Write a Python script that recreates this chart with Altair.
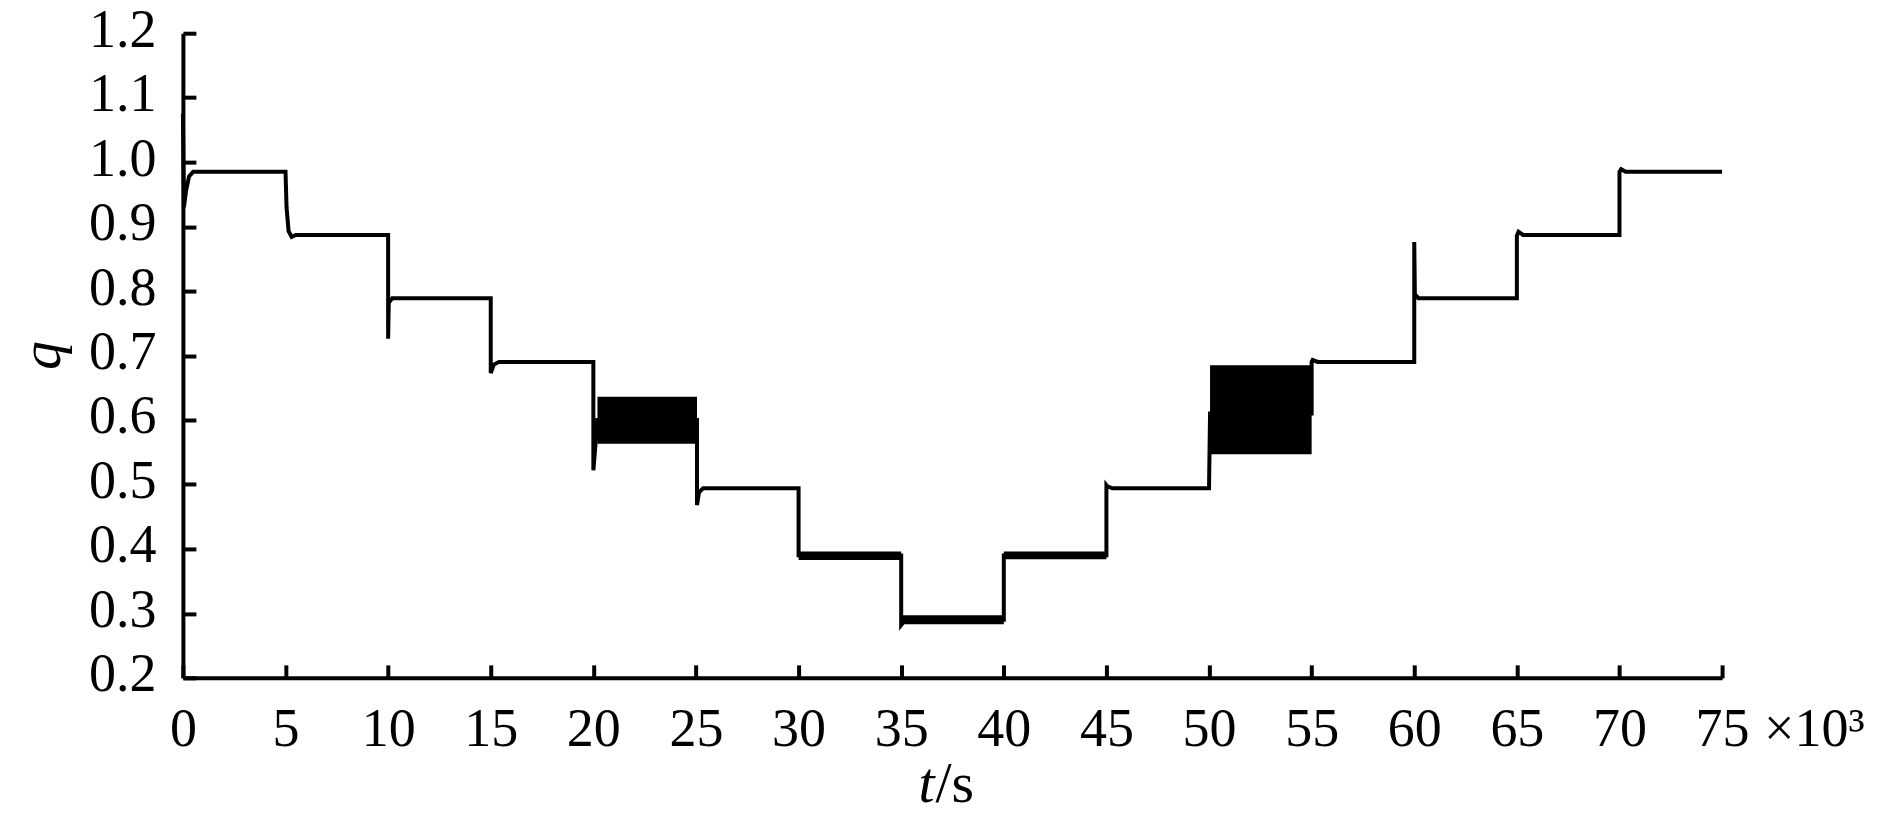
import altair as alt
import pandas as pd

# main trajectory (t in 10^3 s, q)
t_path = [0.0, 0.05, 0.15, 0.3, 0.5,
          5.0, 5.05, 5.15, 5.3, 5.5,
          10.0, 10.0, 10.03, 10.2,
          15.0, 15.0, 15.15, 15.4,
          20.0, 20.0, 20.2, 25.05, 25.05, 25.15, 25.35,
          30.0, 30.0, 35.0, 35.0, 35.2,
          40.0, 40.0, 45.0, 45.0, 45.05, 45.3,
          50.0, 50.05, 55.0, 55.0, 55.05, 55.3,
          60.0, 60.0, 60.03, 60.2,
          65.0, 65.0, 65.08, 65.3,
          70.0, 70.0, 70.08, 70.3, 75.0]
q_path = [1.075, 0.93, 0.955, 0.978, 0.985,
          0.985, 0.93, 0.893, 0.884, 0.887,
          0.887, 0.726, 0.782, 0.789,
          0.789, 0.673, 0.686, 0.690,
          0.690, 0.522, 0.60, 0.60, 0.468, 0.488, 0.494,
          0.494, 0.39, 0.39, 0.282, 0.29,
          0.29, 0.39, 0.39, 0.499, 0.497, 0.494,
          0.494, 0.61, 0.61, 0.690, 0.693, 0.690,
          0.690, 0.876, 0.795, 0.789,
          0.789, 0.886, 0.892, 0.887,
          0.887, 0.985, 0.989, 0.985, 0.985]

# oscillation / noise envelopes
band_t0 = [20.2, 30.0, 35.0, 40.0, 50.05]
band_t1 = [25.05, 35.0, 40.0, 45.0, 55.0]
band_lo = [0.563, 0.383, 0.283, 0.384, 0.547]
band_hi = [0.636, 0.396, 0.297, 0.396, 0.685]

y_ticks = [0.2, 0.3, 0.4, 0.5, 0.6, 0.7, 0.8, 0.9, 1.0, 1.1, 1.2]
x_ticks = [0, 5, 10, 15, 20, 25, 30, 35, 40, 45, 50, 55, 60, 65, 70, 75]

W, H = 1540, 645
X0, X1 = 0, 75
Y0, Y1 = 0.2, 1.2
TICK_PX = 13
FONT = "Liberation Serif"
FS = 54

path = pd.DataFrame({"t": t_path, "q": q_path, "i": list(range(len(t_path)))})
bands = pd.DataFrame({"t0": band_t0, "t1": band_t1, "lo": band_lo, "hi": band_hi})

xs = alt.Scale(domain=[X0, X1], nice=False, zero=False)
ys = alt.Scale(domain=[Y0, Y1], nice=False, zero=False)

# main axes: domain line + labels
xaxis = alt.Axis(
    orient="bottom",
    values=x_ticks, format="d", ticks=False, tickSize=0, grid=False,
    labelPadding=68, labelBaseline="alphabetic", title=None,
    labelFont=FONT, labelFontSize=FS, labelColor="black",
    domainWidth=4, domainColor="black", labelFlush=False)
yaxis = alt.Axis(
    orient="left",
    values=y_ticks, format=".1f", ticks=False, tickSize=0, grid=False,
    labelPadding=27, labelOffset=-3, labelBaseline="middle",
    labelFont=FONT, labelFontSize=FS, labelColor="black",
    title="q", titleFontStyle="italic", titleFontWeight="normal",
    titleFont=FONT, titleFontSize=58, titleX=-140, titleY=322,
    titleAngle=270, titleAlign="center", titleBaseline="middle",
    titleColor="black",
    domainWidth=4, domainColor="black", labelFlush=False)

# helper axes on the same sides, moved inside the plot so ticks point inward
xtick_axis = alt.Axis(
    orient="bottom",
    values=x_ticks, offset=-TICK_PX, tickSize=TICK_PX, tickWidth=4,
    tickColor="black", labels=False, domain=False, grid=False, title=None)
ytick_axis = alt.Axis(
    orient="left",
    values=y_ticks, offset=-TICK_PX, tickSize=TICK_PX, tickWidth=4,
    tickColor="black", labels=False, domain=False, grid=False, title=None)

line = alt.Chart(path).mark_line(color="black", strokeWidth=4, strokeJoin="miter").encode(
    x=alt.X("t:Q", scale=xs, axis=xaxis),
    y=alt.Y("q:Q", scale=ys, axis=yaxis),
    order="i:Q",
)

band = alt.Chart(bands).mark_rect(color="black").encode(
    x=alt.X("t0:Q", scale=xs, axis=xtick_axis), x2="t1:Q",
    y=alt.Y("lo:Q", scale=ys, axis=ytick_axis), y2="hi:Q",
)

def label(txt, px, py, align, size=FS, style="normal"):
    return alt.Chart(pd.DataFrame({"s": [txt]})).mark_text(
        font=FONT, fontSize=size, fontStyle=style, align=align,
        baseline="alphabetic", color="black").encode(
        text="s:N", x=alt.value(px), y=alt.value(py))

mult = label("\u00d710\u00b3", 1582, 713, "left")
tt = label("t", 752, 769, "right", size=58, style="italic")
ts = label("/s", 753, 769, "left", size=58)

chart = alt.layer(line, band, mult, tt, ts).resolve_axis(
    x="independent", y="independent"
).properties(
    width=W, height=H,
    background="white",
    autosize=alt.AutoSizeParams(type="none"),
    padding={"left": 175, "top": 25, "right": 160, "bottom": 142},
).configure_view(strokeWidth=0, stroke="transparent")

chart.save("out.html", embed_options={"renderer": "svg", "actions": False})
